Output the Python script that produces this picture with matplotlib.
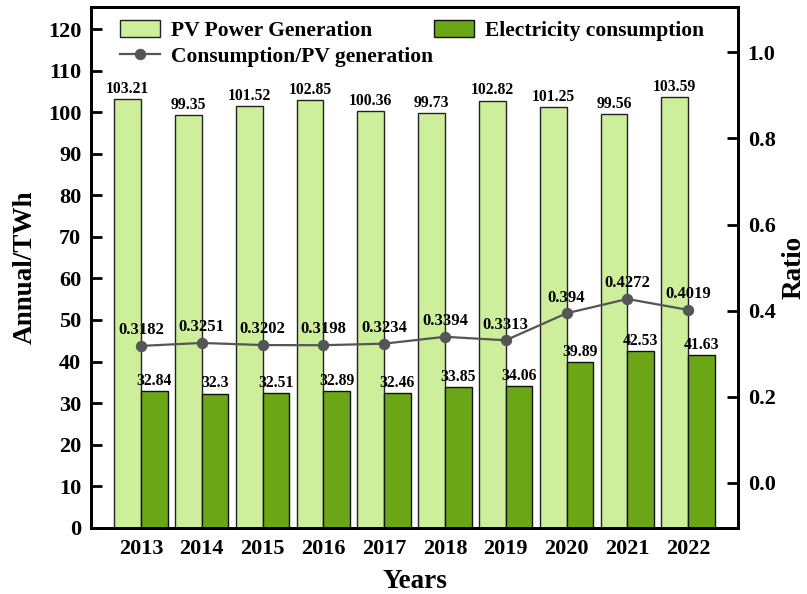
import matplotlib
matplotlib.use("Agg")
import matplotlib.pyplot as plt
import numpy as np

years = ["2013", "2014", "2015", "2016", "2017", "2018", "2019", "2020", "2021", "2022"]
pv_generation = [103.21, 99.35, 101.52, 102.85, 100.36, 99.73, 102.82, 101.25, 99.56, 103.59]
consumption = [32.84, 32.3, 32.51, 32.89, 32.46, 33.85, 34.06, 39.89, 42.53, 41.63]
ratio = [0.3182, 0.3251, 0.3202, 0.3198, 0.3234, 0.3394, 0.3313, 0.394, 0.4272, 0.4019]
ratio_labels = ["0.3182", "0.3251", "0.3202", "0.3198", "0.3234", "0.3394", "0.3313", "0.394", "0.4272", "0.4019"]

plt.rcParams['font.family'] = ['Liberation Serif', 'DejaVu Serif']
plt.rcParams['font.weight'] = 'bold'

fig = plt.figure(figsize=(8.07, 5.94), dpi=100)
ax = fig.add_axes([0.1128, 0.1116, 0.8017, 0.8764])
x = np.arange(len(years))
w = 0.44
c_pv = "#CDEF9B"
c_cons = "#6AA616"

b1 = ax.bar(x - w/2, pv_generation, w, color=c_pv, edgecolor="#222222", linewidth=1.0,
            label="PV Power Generation", zorder=2)
b2 = ax.bar(x + w/2, consumption, w, color=c_cons, edgecolor="#111111", linewidth=1.0,
            label="Electricity consumption", zorder=2)
for xi, v in zip(x, pv_generation):
    ax.text(xi - w/2, v + 0.5, f"{v:g}", ha="center", va="bottom", fontsize=11.3, fontweight="bold")
for xi, v in zip(x, consumption):
    ax.text(xi + w/2, v + 0.5, f"{v:g}", ha="center", va="bottom", fontsize=11.3, fontweight="bold")

ax.set_xlim(-0.82, 9.82)
ax.set_ylim(0, 125.3)
ax.set_yticks(np.arange(0, 121, 10))
ax.set_xticks(x)
ax.set_xticklabels(years)
ax.tick_params(axis="both", direction="in", labelsize=16, width=2)
ax.tick_params(axis="y", length=8, pad=7)
ax.tick_params(axis="x", length=7, pad=8)
for s in ax.spines.values():
    s.set_linewidth(2)
ax.set_ylabel("Annual/TWh", fontsize=19.5, fontweight="bold", labelpad=7)
ax.set_xlabel("Years", fontsize=19.5, fontweight="bold", labelpad=7)

ax2 = ax.twinx()
l1, = ax2.plot(x, ratio, color="#555555", linewidth=1.6, marker="o", markersize=7.2,
               label="Consumption/PV generation", zorder=3)
for xi, v, t in zip(x, ratio, ratio_labels):
    ax2.text(xi, v + 0.018, t, ha="center", va="bottom", fontsize=12, fontweight="bold", zorder=4)
ax2.set_ylim(-0.104, 1.105)
ax2.set_yticks([0.0, 0.2, 0.4, 0.6, 0.8, 1.0])
ax2.set_yticklabels(["0.0", "0.2", "0.4", "0.6", "0.8", "1.0"])
ax2.tick_params(axis="y", direction="in", labelsize=16, width=2, length=8, pad=7)
for s in ax2.spines.values():
    s.set_linewidth(2)
ax2.set_ylabel("Ratio", fontsize=19.5, fontweight="bold", labelpad=4)

leg = ax.legend([b1, l1, b2], ["PV Power Generation", "Consumption/PV generation", "Electricity consumption"],
                ncol=2, loc="upper left", bbox_to_anchor=(0.045, 0.975), frameon=False,
                prop={"size": 15.5, "weight": "bold"}, handlelength=1.85, handleheight=0.8,
                columnspacing=0.05, labelspacing=0.25, handletextpad=0.5, borderaxespad=0,
                borderpad=0)
leg.set_zorder(5)

fig.savefig("out.png", dpi=100)
